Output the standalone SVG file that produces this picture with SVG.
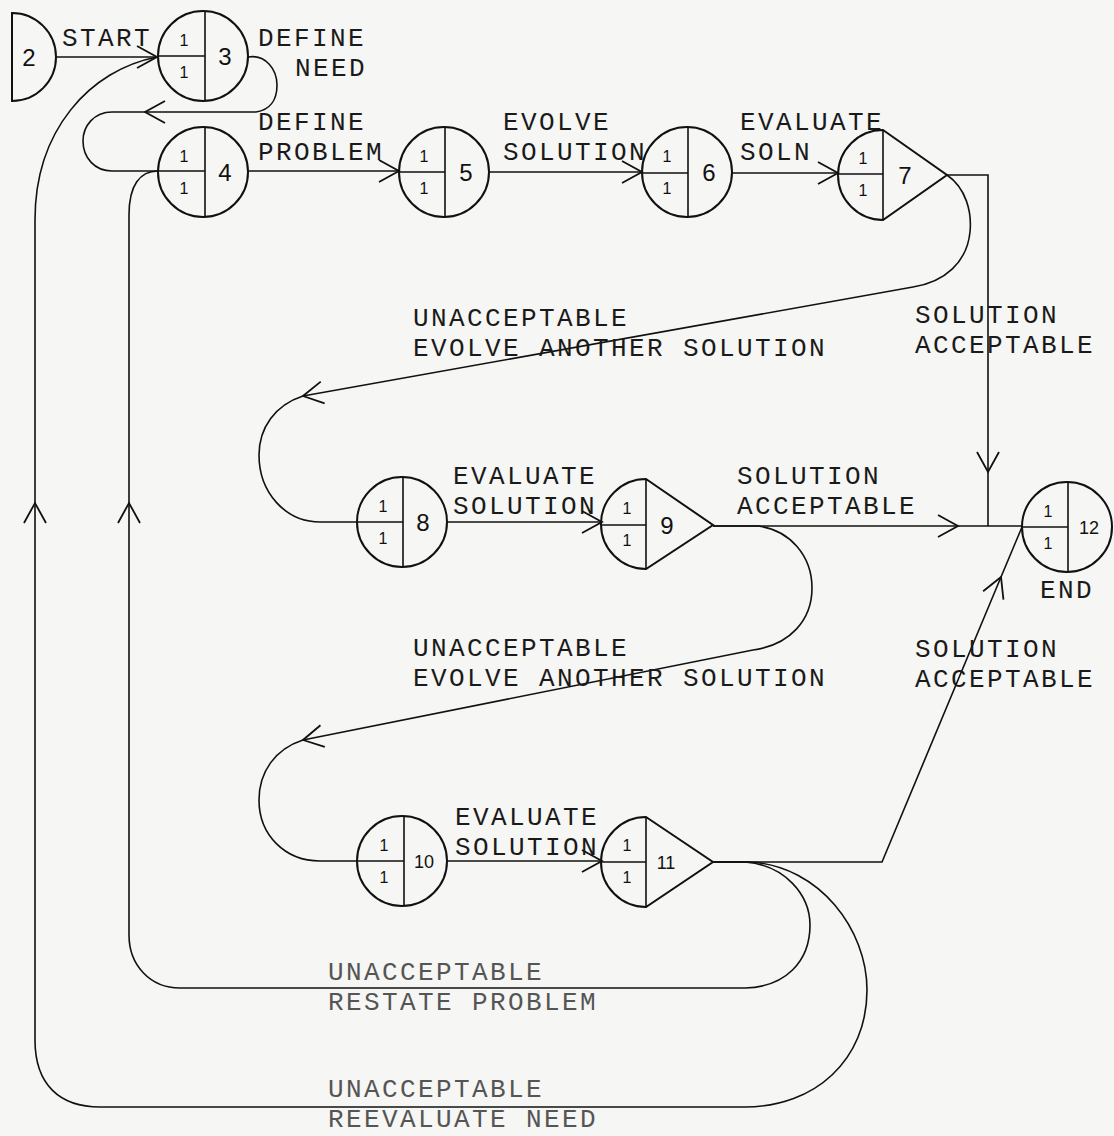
<svg xmlns="http://www.w3.org/2000/svg" width="1114" height="1136" viewBox="0 0 1114 1136">
<defs>
<style>
.nd{fill:none;stroke:#111;stroke-width:2}
.dv{fill:none;stroke:#111;stroke-width:1.6}
.ed{fill:none;stroke:#111;stroke-width:1.6}
.lb{font-family:"Liberation Mono","Courier New",monospace;font-size:26px;letter-spacing:2.4px;fill:#1a1a1a}
.lf{font-family:"Liberation Mono","Courier New",monospace;font-size:26px;letter-spacing:2.4px;fill:#555}
.one{font-family:"Liberation Sans",Arial,sans-serif;font-size:16px;fill:#111;text-anchor:middle}
.num{font-family:"Liberation Sans",Arial,sans-serif;font-size:24px;fill:#111;text-anchor:middle}
</style>
<marker id="arr" viewBox="0 0 24 26" refX="22" refY="13" markerWidth="24" markerHeight="26" markerUnits="userSpaceOnUse" orient="auto">
<path d="M2,2 L22,13 L2,24" fill="none" stroke="#111" stroke-width="1.8"/>
</marker>
</defs>
<rect x="0" y="0" width="1114" height="1136" fill="#f6f6f4"/>

<g id="connectors">
<g id="e-2-3">
<path class="ed" d="M56,57 H157" marker-end="url(#arr)"/>
<text class="lb" x="62" y="46">START</text>
</g>
<g id="e-3-4">
<path class="ed" d="M248,57 C266,54 277,70 277,85 C277,100 270,110 256,112 H145" marker-end="url(#arr)"/>
<path class="ed" d="M145,112 H112 C94,112 83,126 83,141 C83,158 95,171 112,171 H158"/>
<text class="lb" x="258" y="46">DEFINE</text>
<text class="lb" x="295" y="76">NEED</text>
</g>
<g id="e-4-5">
<path class="ed" d="M248,171 H399" marker-end="url(#arr)"/>
<text class="lb" x="258" y="130">DEFINE</text>
<text class="lb" x="258" y="160">PROBLEM</text>
</g>
<g id="e-5-6">
<path class="ed" d="M488,172 H642" marker-end="url(#arr)"/>
<text class="lb" x="503" y="130">EVOLVE</text>
<text class="lb" x="503" y="160">SOLUTION</text>
</g>
<g id="e-6-7">
<path class="ed" d="M732,173 H838" marker-end="url(#arr)"/>
<text class="lb" x="740" y="130">EVALUATE</text>
<text class="lb" x="740" y="160">SOLN</text>
</g>
<g id="e-7-12">
<path class="ed" d="M947,175 H988 V472" marker-end="url(#arr)"/>
<path class="ed" d="M988,472 V526"/>
<text class="lb" x="915" y="323">SOLUTION</text>
<text class="lb" x="915" y="353">ACCEPTABLE</text>
</g>
<g id="e-7-8">
<path class="ed" d="M947,175 C966,188 972,212 970,232 C967,262 945,282 913,287 L303,396" marker-end="url(#arr)"/>
<path class="ed" d="M303,396 C275,405 259,428 259,455 C259,492 285,522 320,522 H357"/>
<text class="lb" x="413" y="326">UNACCEPTABLE</text>
<text class="lb" x="413" y="356">EVOLVE ANOTHER SOLUTION</text>
</g>
<g id="e-8-9">
<path class="ed" d="M447,522 H602" marker-end="url(#arr)"/>
<text class="lb" x="453" y="484">EVALUATE</text>
<text class="lb" x="453" y="514">SOLUTION</text>
</g>
<g id="e-9-12">
<path class="ed" d="M713,526 H958" marker-end="url(#arr)"/>
<path class="ed" d="M958,526 H1022"/>
<text class="lb" x="737" y="484">SOLUTION</text>
<text class="lb" x="737" y="514">ACCEPTABLE</text>
</g>
<g id="e-9-10">
<path class="ed" d="M713,526 H758 C790,530 812,556 812,588 C812,620 790,645 753,650 L303,740" marker-end="url(#arr)"/>
<path class="ed" d="M303,740 C275,749 259,772 259,800 C259,835 285,861 320,861 H357"/>
<text class="lb" x="413" y="656">UNACCEPTABLE</text>
<text class="lb" x="413" y="686">EVOLVE ANOTHER SOLUTION</text>
</g>
<g id="e-10-11">
<path class="ed" d="M447,861 H602" marker-end="url(#arr)"/>
<text class="lb" x="455" y="825">EVALUATE</text>
<text class="lb" x="455" y="855">SOLUTION</text>
</g>
<g id="e-11-12">
<path class="ed" d="M713,862 H882 L1001,577" marker-end="url(#arr)"/>
<path class="ed" d="M1001,577 L1022,527"/>
<text class="lb" x="915" y="657">SOLUTION</text>
<text class="lb" x="915" y="687">ACCEPTABLE</text>
</g>
<g id="e-11-4">
<path class="ed" d="M713,862 H745 C785,865 810,895 810,925 C810,962 785,987 745,988 H180 C150,988 129,965 129,935 V503" marker-end="url(#arr)"/>
<path class="ed" d="M129,503 V215 C129,185 140,171 158,171"/>
<text class="lf" x="328" y="980">UNACCEPTABLE</text>
<text class="lf" x="328" y="1010">RESTATE PROBLEM</text>
</g>
<g id="e-11-3">
<path class="ed" d="M713,862 H750 C820,866 867,930 867,990 C867,1060 815,1107 745,1107 H100 C60,1107 35,1085 35,1040 V503" marker-end="url(#arr)"/>
<path class="ed" d="M35,503 V220 C35,130 90,70 157,57"/>
<text class="lf" x="328" y="1097">UNACCEPTABLE</text>
<text class="lf" x="328" y="1127">REEVALUATE NEED</text>
</g>
</g>

<g id="node-2">
<path class="nd" d="M12,13 A44,44 0 0 1 12,101 Z"/>
<text class="num" x="29" y="66">2</text>
</g>
<g id="node-3">
<circle class="nd" cx="203" cy="56" r="45"/>
<path class="dv" d="M205,11 V101 M158,56 H205"/>
<text class="one" x="184" y="46">1</text><text class="one" x="184" y="78">1</text>
<text class="num" x="225" y="65">3</text>
</g>
<g id="node-4">
<circle class="nd" cx="203" cy="172" r="45"/>
<path class="dv" d="M205,127 V217 M158,171 H205"/>
<text class="one" x="184" y="162">1</text><text class="one" x="184" y="194">1</text>
<text class="num" x="225" y="181">4</text>
</g>
<g id="node-5">
<circle class="nd" cx="444" cy="172" r="45"/>
<path class="dv" d="M445,127 V217 M399,172 H445"/>
<text class="one" x="424" y="162">1</text><text class="one" x="424" y="194">1</text>
<text class="num" x="466" y="181">5</text>
</g>
<g id="node-6">
<circle class="nd" cx="687" cy="172" r="45"/>
<path class="dv" d="M688,127 V217 M642,173 H688"/>
<text class="one" x="667" y="162">1</text><text class="one" x="667" y="194">1</text>
<text class="num" x="709" y="181">6</text>
</g>
<g id="node-7">
<path class="nd" d="M883,130 L947,175 L883,220 A45,45 0 0 1 883,130 Z"/>
<path class="dv" d="M883,130 V220 M838,174 H883"/>
<text class="one" x="863" y="164">1</text><text class="one" x="863" y="196">1</text>
<text class="num" x="905" y="184">7</text>
</g>
<g id="node-8">
<circle class="nd" cx="402" cy="522" r="45"/>
<path class="dv" d="M403,477 V567 M357,522 H403"/>
<text class="one" x="383" y="512">1</text><text class="one" x="383" y="544">1</text>
<text class="num" x="423" y="531">8</text>
</g>
<g id="node-9">
<path class="nd" d="M646,479 L713,525 L646,569 A45,45 0 0 1 646,479 Z"/>
<path class="dv" d="M646,479 V569 M601,525 H646"/>
<text class="one" x="627" y="514">1</text><text class="one" x="627" y="546">1</text>
<text class="num" x="667" y="534">9</text>
</g>
<g id="node-10">
<circle class="nd" cx="402" cy="861" r="45"/>
<path class="dv" d="M404,816 V906 M357,861 H404"/>
<text class="one" x="384" y="851">1</text><text class="one" x="384" y="883">1</text>
<text class="num" x="424" y="868" style="font-size:18px">10</text>
</g>
<g id="node-11">
<path class="nd" d="M646,817 L713,862 L646,907 A45,45 0 0 1 646,817 Z"/>
<path class="dv" d="M646,817 V907 M601,862 H646"/>
<text class="one" x="627" y="851">1</text><text class="one" x="627" y="883">1</text>
<text class="num" x="666" y="869" style="font-size:18px">11</text>
</g>
<g id="node-12">
<circle class="nd" cx="1067" cy="527" r="45"/>
<path class="dv" d="M1068,482 V572 M1022,527 H1068"/>
<text class="one" x="1048" y="517">1</text><text class="one" x="1048" y="549">1</text>
<text class="num" x="1089" y="534" style="font-size:18px">12</text>
<text class="lb" x="1040" y="598">END</text>
</g>
</svg>
